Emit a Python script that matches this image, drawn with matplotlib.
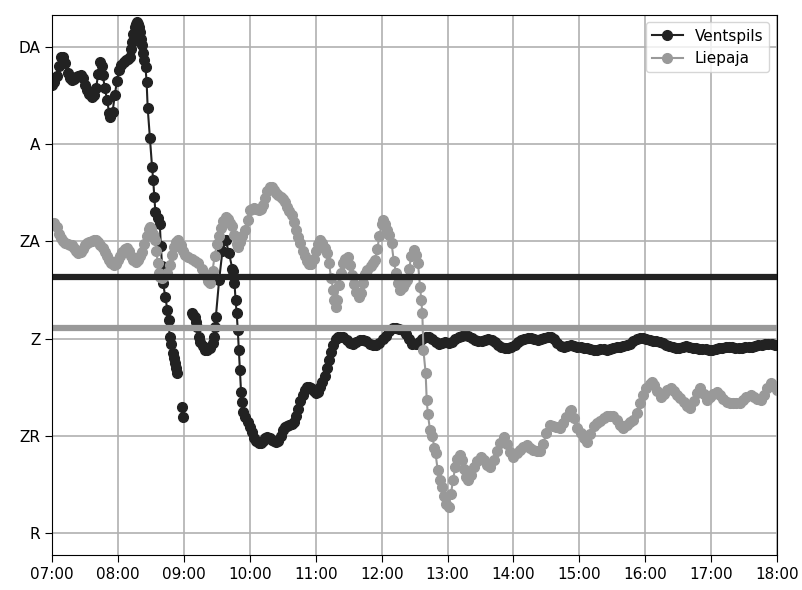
import numpy as np
from matplotlib import pyplot as plt

# y categories, bottom to top
levels = ['R', 'ZR', 'Z', 'ZA', 'A', 'DA']
hour_labels = ['%02d:00' % h for h in range(7, 19)]

ventspils_time = [
    '07:00', '07:02', '07:04', '07:06', '07:08', '07:10', '07:12', '07:14', '07:16', '07:18',
    '07:20', '07:22', '07:24', '07:26', '07:28', '07:30', '07:32', '07:34', '07:36', '07:38',
    '07:40', '07:42', '07:44', '07:45', '07:46', '07:48', '07:50', '07:52', '07:53', '07:55',
    '07:57', '07:59', '08:01', '08:03', '08:05', '08:07', '08:09', '08:11', '08:12', '08:13',
    '08:14', '08:15', '08:16', '08:17', '08:18', '08:19', '08:20', '08:21', '08:22', '08:23',
    '08:24', '08:25', '08:26', '08:27', '08:29', '08:31', '08:32', '08:33', '08:34', '08:36',
    '08:38', '08:39', '08:40', '08:41', '08:43', '08:45', '08:46', '08:47', '08:48', '08:50',
    '08:51', '08:52', '08:53', '08:54', '08:56', '08:58', '08:59', '09:03', '09:07', '09:08',
    '09:10', '09:11', '09:12', '09:14', '09:15', '09:17', '09:19', '09:21', '09:24', '09:26',
    '09:27', '09:28', '09:29', '09:32', '09:35', '09:38', '09:41', '09:44', '09:45', '09:46',
    '09:47', '09:48', '09:49', '09:50', '09:51', '09:52', '09:53', '09:54', '09:56', '09:58',
    '10:00', '10:02', '10:04', '10:06', '10:08', '10:10', '10:12', '10:14', '10:16', '10:18',
    '10:20', '10:22', '10:24', '10:26', '10:28', '10:30', '10:32', '10:34', '10:36', '10:38',
    '10:40', '10:42', '10:44', '10:46', '10:48', '10:50', '10:52', '10:54', '10:56', '10:58',
    '11:00', '11:02', '11:04', '11:06', '11:08', '11:10', '11:12', '11:14', '11:16', '11:18',
    '11:20', '11:22', '11:25', '11:28', '11:31', '11:34', '11:37', '11:40', '11:43', '11:46',
    '11:49', '11:52', '11:55', '11:58', '12:01', '12:04', '12:07', '12:10', '12:13', '12:16',
    '12:19', '12:22', '12:25', '12:28', '12:31', '12:34', '12:37', '12:40', '12:43', '12:46',
    '12:49', '12:52', '12:55', '12:58', '13:01', '13:04', '13:07', '13:10', '13:13', '13:16',
    '13:19', '13:22', '13:25', '13:28', '13:31', '13:34', '13:37', '13:40', '13:43', '13:46',
    '13:49', '13:52', '13:55', '13:58', '14:01', '14:04', '14:07', '14:10', '14:13', '14:16',
    '14:19', '14:22', '14:25', '14:28', '14:31', '14:34', '14:37', '14:40', '14:43', '14:46',
    '14:49', '14:52', '14:55', '14:58', '15:01', '15:04', '15:07', '15:10', '15:13', '15:16',
    '15:19', '15:22', '15:25', '15:28', '15:31', '15:34', '15:37', '15:40', '15:43', '15:46',
    '15:49', '15:52', '15:55', '15:58', '16:01', '16:04', '16:07', '16:10', '16:13', '16:16',
    '16:19', '16:22', '16:25', '16:28', '16:31', '16:34', '16:37', '16:40', '16:43', '16:46',
    '16:49', '16:52', '16:55', '16:58', '17:01', '17:04', '17:07', '17:10', '17:13', '17:16',
    '17:19', '17:22', '17:25', '17:28', '17:31', '17:34', '17:37', '17:40', '17:43', '17:46',
    '17:49', '17:52', '17:55', '17:58', '18:00',
]
ventspils_level = [
    4.61, 4.64, 4.70, 4.80, 4.90, 4.90, 4.83, 4.73, 4.68, 4.66,
    4.67, 4.69, 4.70, 4.71, 4.68, 4.61, 4.56, 4.52, 4.48, 4.50,
    4.58, 4.72, 4.84, 4.80, 4.71, 4.58, 4.45, 4.32, 4.28, 4.33,
    4.50, 4.65, 4.76, 4.81, 4.84, 4.86, 4.88, 4.90, 4.98, 5.05,
    5.13, 5.20, 5.24, 5.26, 5.24, 5.20, 5.15, 5.08, 5.02, 4.94,
    4.86, 4.79, 4.64, 4.37, 4.06, 3.76, 3.63, 3.46, 3.30, 3.24,
    3.18, 2.95, 2.75, 2.57, 2.43, 2.29, 2.19, 2.02, 1.95, 1.85,
    1.80, 1.75, 1.70, 1.65, np.nan, 1.30, 1.19, np.nan, 2.26, 2.24,
    2.22, 2.17, 2.12, 2.02, 1.97, 1.92, 1.88, 1.88, 1.90, 1.96,
    2.02, 2.12, 2.22, 2.60, 2.90, 3.01, 2.88, 2.72, 2.70, 2.57,
    2.40, 2.26, 2.09, 1.88, 1.68, 1.45, 1.35, 1.25, 1.19, 1.14,
    1.09, 1.04, 0.98, 0.95, 0.93, 0.93, 0.95, 0.98, 0.99, 0.98,
    0.96, 0.95, 0.94, 0.95, 1.00, 1.06, 1.09, 1.10, 1.11, 1.12,
    1.14, 1.20, 1.28, 1.36, 1.42, 1.47, 1.50, 1.50, 1.49, 1.46,
    1.44, 1.45, 1.50, 1.55, 1.62, 1.70, 1.78, 1.86, 1.94, 2.00,
    2.02, 2.02, 2.02, 1.99, 1.96, 1.95, 1.97, 1.99, 1.99, 1.98,
    1.95, 1.93, 1.93, 1.96, 2.00, 2.03, 2.08, 2.11, 2.11, 2.10,
    2.09, 2.05, 2.00, 1.95, 1.95, 1.97, 2.00, 2.02, 2.02, 2.00,
    1.97, 1.95, 1.96, 1.97, 1.96, 1.97, 2.00, 2.02, 2.03, 2.04,
    2.03, 2.01, 1.99, 1.98, 1.98, 1.99, 2.00, 1.99, 1.97, 1.94,
    1.91, 1.90, 1.90, 1.91, 1.94, 1.97, 1.99, 2.00, 2.01, 2.01,
    2.00, 1.99, 2.00, 2.01, 2.02, 2.02, 2.00, 1.96, 1.92, 1.91,
    1.92, 1.93, 1.92, 1.91, 1.91, 1.90, 1.90, 1.89, 1.88, 1.88,
    1.89, 1.89, 1.88, 1.89, 1.90, 1.91, 1.91, 1.92, 1.93, 1.95,
    1.98, 2.00, 2.01, 2.01, 2.00, 1.99, 1.98, 1.98, 1.97, 1.96,
    1.94, 1.92, 1.91, 1.90, 1.90, 1.91, 1.92, 1.91, 1.90, 1.90,
    1.89, 1.89, 1.89, 1.88, 1.88, 1.89, 1.90, 1.90, 1.91, 1.91,
    1.91, 1.90, 1.90, 1.90, 1.91, 1.91, 1.91, 1.92, 1.93, 1.94,
    1.95, 1.95, 1.95, 1.94, 1.93,
]

liepaja_time = [
    '07:00', '07:02', '07:04', '07:06', '07:08', '07:10', '07:12', '07:14', '07:16', '07:18',
    '07:20', '07:22', '07:24', '07:26', '07:28', '07:30', '07:32', '07:34', '07:36', '07:38',
    '07:40', '07:42', '07:44', '07:46', '07:48', '07:50', '07:52', '07:54', '07:56', '07:58',
    '08:00', '08:02', '08:04', '08:06', '08:08', '08:10', '08:12', '08:14', '08:16', '08:18',
    '08:20', '08:22', '08:24', '08:26', '08:28', '08:29', '08:30', '08:32', '08:34', '08:35',
    '08:36', '08:37', '08:38', '08:40', '08:42', '08:45', '08:47', '08:49', '08:51', '08:53',
    '08:55', '08:57', '08:59', '09:01', '09:04', '09:07', '09:10', '09:13', '09:16', '09:19',
    '09:22', '09:24', '09:26', '09:28', '09:30', '09:32', '09:34', '09:36', '09:38', '09:40',
    '09:42', '09:44', '09:46', '09:48', '09:49', '09:51', '09:53', '09:56', '09:58', '10:00',
    '10:02', '10:04', '10:06', '10:08', '10:10', '10:12', '10:14', '10:16', '10:18', '10:20',
    '10:22', '10:24', '10:26', '10:28', '10:30', '10:32', '10:34', '10:36', '10:38', '10:40',
    '10:42', '10:44', '10:46', '10:48', '10:50', '10:52', '10:54', '10:56', '10:58', '11:00',
    '11:02', '11:04', '11:06', '11:08', '11:10', '11:12', '11:14', '11:16', '11:17', '11:18',
    '11:19', '11:21', '11:23', '11:25', '11:27', '11:29', '11:31', '11:33', '11:35', '11:37',
    '11:39', '11:41', '11:43', '11:45', '11:47', '11:50', '11:52', '11:54', '11:56', '11:58',
    '12:00', '12:01', '12:03', '12:05', '12:07', '12:09', '12:11', '12:13', '12:15', '12:17',
    '12:19', '12:21', '12:23', '12:25', '12:27', '12:29', '12:31', '12:33', '12:35', '12:36',
    '12:37', '12:38', '12:40', '12:41', '12:42', '12:44', '12:46', '12:48', '12:49', '12:51',
    '12:53', '12:55', '12:57', '12:59', '13:01', '13:03', '13:05', '13:07', '13:09', '13:11',
    '13:13', '13:15', '13:17', '13:19', '13:21', '13:24', '13:27', '13:30', '13:33', '13:36',
    '13:39', '13:42', '13:45', '13:48', '13:51', '13:54', '13:57', '14:00', '14:03', '14:06',
    '14:09', '14:12', '14:15', '14:18', '14:21', '14:24', '14:27', '14:30', '14:33', '14:36',
    '14:39', '14:42', '14:45', '14:48', '14:51', '14:52', '14:55', '14:58', '15:01', '15:04',
    '15:07', '15:10', '15:13', '15:16', '15:19', '15:22', '15:25', '15:28', '15:31', '15:34',
    '15:37', '15:40', '15:43', '15:46', '15:49', '15:52', '15:55', '15:58', '16:01', '16:04',
    '16:06', '16:08', '16:11', '16:14', '16:17', '16:20', '16:23', '16:26', '16:29', '16:32',
    '16:35', '16:38', '16:41', '16:44', '16:47', '16:50', '16:53', '16:56', '16:59', '17:02',
    '17:05', '17:08', '17:11', '17:14', '17:17', '17:20', '17:23', '17:26', '17:29', '17:32',
    '17:36', '17:39', '17:42', '17:45', '17:48', '17:51', '17:54', '17:57', '18:00',
]
liepaja_level = [
    3.17, 3.19, 3.15, 3.08, 3.03, 3.00, 2.98, 2.97, 2.96, 2.96,
    2.93, 2.90, 2.88, 2.89, 2.92, 2.96, 2.98, 2.99, 3.00, 3.01,
    3.01, 2.99, 2.96, 2.93, 2.89, 2.85, 2.81, 2.78, 2.76, 2.77,
    2.81, 2.85, 2.89, 2.92, 2.93, 2.90, 2.85, 2.81, 2.79, 2.81,
    2.85, 2.89, 2.97, 3.06, 3.13, 3.15, 3.13, 3.08, 3.01, 2.90,
    2.78, 2.68, 2.63, 2.62, 2.64, 2.67, 2.76, 2.86, 2.94, 2.99,
    3.01, 2.96, 2.90, 2.86, 2.84, 2.82, 2.80, 2.78, 2.72, 2.65,
    2.59, 2.57, 2.70, 2.85, 2.97, 3.06, 3.14, 3.21, 3.25, 3.23,
    3.19, 3.16, 3.07, 2.97, 2.94, 2.99, 3.06, 3.12, 3.22, 3.32,
    3.33, 3.34, 3.33, 3.32, 3.33, 3.37, 3.45, 3.52, 3.56, 3.56,
    3.53, 3.50, 3.48, 3.46, 3.44, 3.40, 3.35, 3.31, 3.27, 3.20,
    3.12, 3.05, 2.98, 2.90, 2.85, 2.80, 2.77, 2.77, 2.82, 2.90,
    2.97, 3.01, 2.98, 2.93, 2.88, 2.78, 2.62, 2.50, 2.40, 2.33,
    2.40, 2.55, 2.68, 2.78, 2.82, 2.84, 2.76, 2.65, 2.56, 2.48,
    2.43, 2.47, 2.57, 2.66, 2.71, 2.75, 2.78, 2.81, 2.92, 3.06,
    3.18, 3.22, 3.18, 3.12, 3.07, 2.98, 2.80, 2.68, 2.57, 2.50,
    2.53, 2.57, 2.60, 2.72, 2.85, 2.91, 2.86, 2.78, 2.53, 2.40,
    2.26, 1.88, 1.65, 1.37, 1.23, 1.06, 1.00, 0.88, 0.82, 0.65,
    0.55, 0.47, 0.38, 0.30, 0.27, 0.40, 0.55, 0.68, 0.76, 0.80,
    0.75, 0.66, 0.58, 0.55, 0.60, 0.68, 0.74, 0.78, 0.75, 0.70,
    0.68, 0.75, 0.85, 0.93, 0.99, 0.92, 0.83, 0.78, 0.82, 0.86,
    0.89, 0.91, 0.88, 0.86, 0.85, 0.85, 0.92, 1.03, 1.11, 1.10,
    1.09, 1.08, 1.13, 1.19, 1.26, 1.27, 1.18, 1.08, 1.03, 0.98,
    0.94, 1.02, 1.10, 1.13, 1.15, 1.18, 1.20, 1.21, 1.21, 1.16,
    1.11, 1.08, 1.11, 1.14, 1.16, 1.24, 1.34, 1.42, 1.49, 1.53,
    1.55, 1.52, 1.46, 1.40, 1.43, 1.47, 1.49, 1.46, 1.42, 1.39,
    1.35, 1.31, 1.29, 1.36, 1.44, 1.49, 1.43, 1.37, 1.40, 1.43,
    1.45, 1.42, 1.38, 1.35, 1.34, 1.34, 1.34, 1.34, 1.37, 1.40,
    1.42, 1.40, 1.38, 1.37, 1.42, 1.49, 1.54, 1.51, 1.47,
]

# reference levels drawn as horizontal lines
ventspils_ref = 2.63
liepaja_ref = 2.11

dark = '#222222'
grey = '#999999'


def to_hours(times):
    return [int(t[:2]) + int(t[3:]) / 60 for t in times]


fig = plt.figure(figsize=(8.02, 5.90), dpi=100)
ax = fig.add_axes([0.065, 0.059, 0.904, 0.916])

ax.plot(to_hours(ventspils_time), ventspils_level, color=dark, marker='o',
        markersize=7, linewidth=1.5, label='Ventspils')
ax.plot(to_hours(liepaja_time), liepaja_level, color=grey, marker='o',
        markersize=7, linewidth=1.5, label='Liepaja')
ax.axhline(ventspils_ref, color=dark, linewidth=4.5)
ax.axhline(liepaja_ref, color=grey, linewidth=4.5)

ax.set_xlim(7, 18)
ax.set_ylim(-0.226, 5.33)
ax.set_xticks(range(7, 19))
ax.set_xticklabels(hour_labels, fontsize=11)
ax.set_yticks(range(len(levels)))
ax.set_yticklabels(levels, fontsize=11)
ax.tick_params(length=5)
ax.grid(True, color='#b0b0b0', linewidth=1.2)
ax.set_axisbelow(True)
ax.legend(loc='upper right', fontsize=11)

plt.savefig('out.png', dpi=100)
